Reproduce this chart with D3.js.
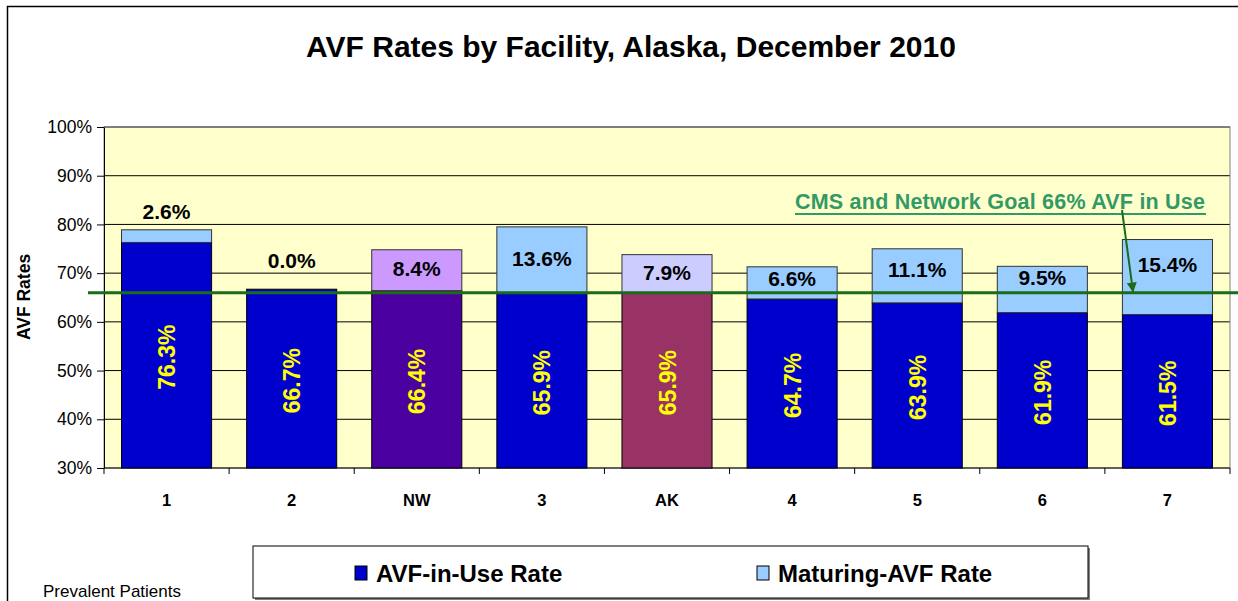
<!DOCTYPE html>
<html><head><meta charset="utf-8">
<script src="https://cdn.jsdelivr.net/npm/d3@7"></script>
<style>body{margin:0;background:#fff;font-family:"Liberation Sans",Arial,sans-serif;}</style>
</head><body>
<svg id="c" width="1238" height="601"></svg>
<script>
const categories = ["1","2","NW","3","AK","4","5","6","7"];
const avfInUse = [76.3,66.7,66.4,65.9,65.9,64.7,63.9,61.9,61.5];
const maturing = [2.6,0.0,8.4,13.6,7.9,6.6,11.1,9.5,15.4];
const yTicks = [30,40,50,60,70,80,90,100];
const goal = 66;
const bottomColors = ["#0000CC","#0000CC","#4B00A0","#0000CC","#993366","#0000CC","#0000CC","#0000CC","#0000CC"];
const topColors = ["#99CCFF","#99CCFF","#CC99FF","#99CCFF","#CCCCFF","#99CCFF","#99CCFF","#99CCFF","#99CCFF"];

const svg = d3.select("#c");
const F = '"Liberation Sans",Arial,sans-serif';
svg.append("rect").attr("x",7.5).attr("y",6.5).attr("width",1240).attr("height",600).attr("fill","#fff").attr("stroke","#000").attr("stroke-width",1.5);

svg.append("text").attr("x",631).attr("y",57).attr("text-anchor","middle").attr("font-family",F)
  .attr("font-weight","bold").attr("font-size",30).text("AVF Rates by Facility, Alaska, December 2010");

const L=104,R=1230,T=127,B=468;
const x = d3.scaleBand().domain(categories).range([L,R]).paddingInner(0.28).paddingOuter(0.14);
const y = d3.scaleLinear().domain([30,100]).range([B,T]);

svg.append("rect").attr("x",L).attr("y",T).attr("width",R-L).attr("height",B-T).attr("fill","#FFFFCC");
svg.append("g").selectAll("line").data(yTicks.filter(d=>d>30)).join("line")
  .attr("x1",L).attr("x2",R).attr("y1",d=>y(d)).attr("y2",d=>y(d)).attr("stroke","#000").attr("stroke-width",1);
svg.append("rect").attr("x",L).attr("y",T).attr("width",R-L).attr("height",B-T).attr("fill","none").attr("stroke","#808080").attr("stroke-width",1);

const ya = svg.append("g").attr("transform",`translate(${L},0)`)
  .call(d3.axisLeft(y).tickValues(yTicks).tickFormat(d=>d+"%").tickSize(7).tickSizeOuter(0));
ya.select(".domain").attr("stroke","#000");
ya.selectAll("line").attr("stroke","#000");
ya.selectAll("text").attr("font-family",F).attr("font-size",17.5).attr("fill","#000").attr("dx",-2);

const xb = svg.append("g");
xb.append("line").attr("x1",L).attr("x2",R).attr("y1",B).attr("y2",B).attr("stroke","#000");
xb.selectAll("line.t").data(d3.range(categories.length+1)).join("line").attr("class","t")
  .attr("x1",i=>L+i*(R-L)/categories.length).attr("x2",i=>L+i*(R-L)/categories.length)
  .attr("y1",B).attr("y2",B+6).attr("stroke","#000");
xb.selectAll("text").data(categories).join("text")
  .attr("x",d=>x(d)+x.bandwidth()/2).attr("y",506).attr("text-anchor","middle")
  .attr("font-family",F).attr("font-weight","bold").attr("font-size",16.5).text(d=>d);

svg.append("text").attr("transform","translate(30,297) rotate(-90)").attr("text-anchor","middle")
  .attr("font-family",F).attr("font-weight","bold").attr("font-size",17.5).text("AVF Rates");

const g = svg.append("g");
categories.forEach((c,i)=>{
  const x0 = x(c), w = x.bandwidth();
  const v = avfInUse[i], m = maturing[i];
  g.append("rect").attr("x",x0).attr("y",y(v)).attr("width",w).attr("height",y(30)-y(v))
    .attr("fill",bottomColors[i]).attr("stroke","#000").attr("stroke-width",1);
  if(m>0) g.append("rect").attr("x",x0).attr("y",y(v+m)).attr("width",w).attr("height",y(v)-y(v+m))
    .attr("fill",topColors[i]).attr("stroke","#333").attr("stroke-width",1);
  const cx = x0+w/2;
  g.append("text").attr("transform",`translate(${cx+8.5},${(y(v)+y(30))/2+2}) rotate(-90)`)
    .attr("text-anchor","middle").attr("font-family",F).attr("font-weight","bold").attr("font-size",23)
    .attr("fill","#FFFF00").text(v.toFixed(1)+"%");
  const top = y(v+m), base = y(Math.max(v,goal));
  let ly;
  if(base - top < 20) ly = top - (m===0 ? 21 : 11);
  else ly = (top+base)/2 + 6;
  g.append("text").attr("x",cx).attr("y",ly).attr("text-anchor","middle").attr("font-family",F)
    .attr("font-weight","bold").attr("font-size",21).attr("fill","#000").text(m.toFixed(1)+"%");
});

svg.append("line").attr("x1",88).attr("x2",1238).attr("y1",y(goal)).attr("y2",y(goal))
  .attr("stroke","#1A6B1A").attr("stroke-width",3);

svg.append("defs").append("marker").attr("id","ah").attr("viewBox","0 0 10 10").attr("refX",9).attr("refY",5)
  .attr("markerWidth",5).attr("markerHeight",5).attr("orient","auto")
  .append("path").attr("d","M0,0L10,5L0,10z").attr("fill","#1A6B1A");
svg.append("text").attr("x",1000).attr("y",209).attr("text-anchor","middle").attr("font-family",F)
  .attr("font-weight","bold").attr("font-size",21.5).attr("fill","#339966").attr("textLength",410)
  .text("CMS and Network Goal 66% AVF in Use");
svg.append("line").attr("x1",795).attr("x2",1206).attr("y1",214).attr("y2",214).attr("stroke","#339966").attr("stroke-width",2);
svg.append("line").attr("x1",1122).attr("y1",210).attr("x2",1133).attr("y2",y(goal)-1)
  .attr("stroke","#1A6B1A").attr("stroke-width",2).attr("marker-end","url(#ah)");

svg.append("rect").attr("x",255).attr("y",548).attr("width",835).attr("height",52).attr("fill","#808080");
svg.append("rect").attr("x",253).attr("y",546).attr("width",835).attr("height",52).attr("fill","#fff").attr("stroke","#000").attr("stroke-width",1);
const leg = [{label:"AVF-in-Use Rate",color:"#0000CC",x:355},{label:"Maturing-AVF Rate",color:"#99CCFF",x:757}];
leg.forEach(d=>{
  svg.append("rect").attr("x",d.x).attr("y",566).attr("width",12).attr("height",14).attr("fill",d.color).attr("stroke","#000");
  svg.append("text").attr("x",d.x+21).attr("y",582).attr("font-family",F).attr("font-weight","bold")
    .attr("font-size",24).text(d.label);
});
svg.append("text").attr("x",43).attr("y",597).attr("font-family",F).attr("font-size",17).text("Prevalent Patients");
</script>
</body></html>
